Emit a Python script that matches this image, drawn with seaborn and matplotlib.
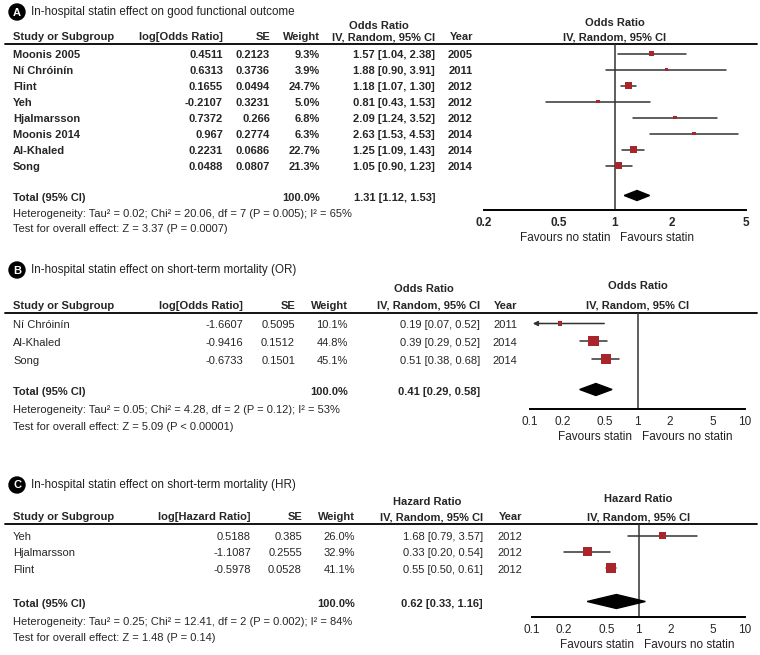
import numpy as np
import pandas as pd
import matplotlib
matplotlib.use("Agg")
import matplotlib.pyplot as plt
from matplotlib.patches import Circle
import seaborn as sns

sns.set_theme(style="white")
plt.rcParams['font.family'] = ['Liberation Sans', 'DejaVu Sans']

# ---------- data: panel A (good functional outcome) ----------
a_study = ['Moonis 2005', 'Ní Chróinín', 'Flint', 'Yeh', 'Hjalmarsson', 'Moonis 2014', 'Al-Khaled', 'Song']
a_log = ['0.4511', '0.6313', '0.1655', '-0.2107', '0.7372', '0.967', '0.2231', '0.0488']
a_se = ['0.2123', '0.3736', '0.0494', '0.3231', '0.266', '0.2774', '0.0686', '0.0807']
a_weight = [9.3, 3.9, 24.7, 5.0, 6.8, 6.3, 22.7, 21.3]
a_or = [1.57, 1.88, 1.18, 0.81, 2.09, 2.63, 1.25, 1.05]
a_lo = [1.04, 0.90, 1.07, 0.43, 1.24, 1.53, 1.09, 0.90]
a_hi = [2.38, 3.91, 1.30, 1.53, 3.52, 4.53, 1.43, 1.23]
a_year = [2005, 2011, 2012, 2012, 2012, 2014, 2014, 2014]
a_total = [1.31, 1.12, 1.53]
a_ticks = [0.2, 0.5, 1, 2, 5]

# ---------- data: panel B (short-term mortality, OR) ----------
b_study = ['Ní Chróinín', 'Al-Khaled', 'Song']
b_log = ['-1.6607', '-0.9416', '-0.6733']
b_se = ['0.5095', '0.1512', '0.1501']
b_weight = [10.1, 44.8, 45.1]
b_or = [0.19, 0.39, 0.51]
b_lo = [0.07, 0.29, 0.38]
b_hi = [0.52, 0.52, 0.68]
b_year = [2011, 2014, 2014]
b_total = [0.41, 0.29, 0.58]
b_ticks = [0.1, 0.2, 0.5, 1, 2, 5, 10]

# ---------- data: panel C (short-term mortality, HR) ----------
c_study = ['Yeh', 'Hjalmarsson', 'Flint']
c_log = ['0.5188', '-1.1087', '-0.5978']
c_se = ['0.385', '0.2555', '0.0528']
c_weight = [26.0, 32.9, 41.1]
c_or = [1.68, 0.33, 0.55]
c_lo = [0.79, 0.20, 0.50]
c_hi = [3.57, 0.54, 0.61]
c_year = [2012, 2012, 2012]
c_total = [0.62, 0.33, 1.16]
c_ticks = [0.1, 0.2, 0.5, 1, 2, 5, 10]

W, H = 760, 655
SQ = '#a8262b'
LN = '#333333'
FS = 8

fig = plt.figure(figsize=(7.6, 6.55), dpi=100)
bg = fig.add_axes([0, 0, 1, 1])
bg.set_xlim(0, W)
bg.set_ylim(H, 0)
bg.axis('off')


def draw_panel(letter, title, lay, measure, logname, study, logv, se, weight, est, lo, hi, year,
               total, ticks, fav_left, fav_right, cols, fx, hetero, overall, bold_rows, dh):
    # lay = (title_y, head1_y, head2_y, line_y, row0, step, total_y, het_y, test_y, axis_y)
    top, h1, h2, line_y, row0, step, tot_y, het_y, test_y, axis_y = lay
    c_log_x, c_se_x, c_w_x, c_ci_x, c_yr_x = cols
    fx0, fx1 = fx
    bg.add_patch(Circle((17, top), 8, color='black'))
    bg.text(17, top + 0.5, letter, color='white', fontsize=8, fontweight='bold', ha='center', va='center')
    bg.text(31, top, title, fontsize=8.4, va='center', color='#222222')

    bg.text((c_ci_x - 56), h1, measure, fontsize=FS, fontweight='bold', ha='center', va='center')
    hdr = dict(fontsize=FS, fontweight='bold', va='center')
    bg.text(13, h2, 'Study or Subgroup', ha='left', **hdr)
    bg.text(c_log_x, h2, logname, ha='right', **hdr)
    bg.text(c_se_x, h2, 'SE', ha='right', **hdr)
    bg.text(c_w_x, h2, 'Weight', ha='right', **hdr)
    bg.text(c_ci_x, h2, 'IV, Random, 95% CI', ha='right', **hdr)
    bg.text(c_yr_x, h2, 'Year', ha='right', **hdr)
    bg.plot([5, 757], [line_y, line_y], color='black', lw=1.3)

    n = len(study)
    rows = [row0 + step * i for i in range(n)]
    rw = 'bold' if bold_rows else 'normal'
    for i in range(n):
        y = rows[i]
        bg.text(13, y, study[i], fontsize=FS, fontweight=rw, va='center')
        bg.text(c_log_x, y, logv[i], fontsize=FS, fontweight=rw, va='center', ha='right')
        bg.text(c_se_x, y, se[i], fontsize=FS, fontweight=rw, va='center', ha='right')
        bg.text(c_w_x, y, f'{weight[i]:.1f}%', fontsize=FS, fontweight=rw, va='center', ha='right')
        bg.text(c_ci_x, y, f'{est[i]:.2f} [{lo[i]:.2f}, {hi[i]:.2f}]', fontsize=FS, fontweight=rw,
                va='center', ha='right')
        bg.text(c_yr_x, y, str(year[i]), fontsize=FS, fontweight=rw, va='center', ha='right')
    bg.text(13, tot_y, 'Total (95% CI)', fontsize=FS, fontweight='bold', va='center')
    bg.text(c_w_x, tot_y, '100.0%', fontsize=FS, fontweight='bold', va='center', ha='right')
    bg.text(c_ci_x, tot_y, f'{total[0]:.2f} [{total[1]:.2f}, {total[2]:.2f}]', fontsize=FS,
            fontweight='bold', va='center', ha='right')
    bg.text(13, het_y, hetero, fontsize=FS, va='center')
    bg.text(13, test_y, overall, fontsize=FS, va='center')

    # forest axes, y in figure pixels
    ax = fig.add_axes([fx0 / W, 1 - axis_y / H, (fx1 - fx0) / W, (axis_y - line_y) / H])
    ax.set_xscale('log')
    my = [r - 1.5 for r in rows]
    df = pd.DataFrame({'est': est, 'y': my, 'w': weight})
    for i in range(n):
        if lo[i] < ticks[0]:
            ax.annotate('', xy=(ticks[0], my[i]), xytext=(hi[i], my[i]),
                        arrowprops=dict(arrowstyle='-|>', color=LN, lw=1.1, mutation_scale=7),
                        annotation_clip=False)
        else:
            ax.plot([lo[i], hi[i]], [my[i], my[i]], color=LN, lw=1.1, zorder=2)
    sns.scatterplot(data=df, x='est', y='y', size='w', sizes=(0, 120),
                    size_norm=(0, 100), marker='s', color=SQ, linewidth=0, legend=False,
                    ax=ax, zorder=3)
    ty = tot_y - 2.5
    ax.fill([total[1], total[0], total[2], total[0]], [ty, ty - dh, ty, ty + dh], color='black', zorder=3)
    ax.axvline(1, color=LN, lw=1.1, zorder=1)
    ax.set_xlim(ticks[0], ticks[-1])
    ax.set_ylim(axis_y, line_y)
    ax.set_xticks(ticks)
    ax.set_xticklabels([f'{t:g}' for t in ticks], fontsize=8.5, fontweight=rw)
    ax.xaxis.set_minor_locator(matplotlib.ticker.NullLocator())
    ax.set_yticks([])
    ax.set_xlabel('')
    ax.set_ylabel('')
    ax.patch.set_alpha(0)
    for s in ['top', 'left', 'right']:
        ax.spines[s].set_visible(False)
    ax.spines['bottom'].set_color('black')
    ax.spines['bottom'].set_linewidth(1.4)
    ax.tick_params(axis='x', direction='inout', length=8, width=1.4, color='black', pad=1)
    ax.grid(False)

    fm = (fx0 + fx1) / 2
    bg.text(fm, h1 - 3, measure, fontsize=FS, fontweight='bold', ha='center', va='center')
    bg.text(fm, h2, 'IV, Random, 95% CI', fontsize=FS, fontweight='bold', ha='center', va='center')
    one_x = fx0 + (fx1 - fx0) * np.log(1 / ticks[0]) / np.log(ticks[-1] / ticks[0])
    bg.text(one_x - 5, axis_y + 28, fav_left, fontsize=8.5, ha='right', va='center', color='#222222')
    bg.text(one_x + 5, axis_y + 28, fav_right, fontsize=8.5, ha='left', va='center', color='#222222')


draw_panel('A', 'In-hospital statin effect on good functional outcome',
           (12, 26, 37, 44, 55, 16.0, 198, 214, 229, 210), 'Odds Ratio', 'log[Odds Ratio]',
           a_study, a_log, a_se, a_weight, a_or, a_lo, a_hi, a_year, a_total, a_ticks,
           'Favours no statin', 'Favours statin', (223, 270, 320, 435, 473), (484, 746),
           'Heterogeneity: Tau² = 0.02; Chi² = 20.06, df = 7 (P = 0.005); I² = 65%',
           'Test for overall effect: Z = 3.37 (P = 0.0007)', True, 5)

draw_panel('B', 'In-hospital statin effect on short-term mortality (OR)',
           (270, 289, 306, 313, 325, 17.8, 392, 410, 427, 409), 'Odds Ratio', 'log[Odds Ratio]',
           b_study, b_log, b_se, b_weight, b_or, b_lo, b_hi, b_year, b_total, b_ticks,
           'Favours statin', 'Favours no statin', (243, 295, 348, 480, 517), (530, 745),
           'Heterogeneity: Tau² = 0.05; Chi² = 4.28, df = 2 (P = 0.12); I² = 53%',
           'Test for overall effect: Z = 5.09 (P < 0.00001)', False, 6)

draw_panel('C', 'In-hospital statin effect on short-term mortality (HR)',
           (485, 502, 517, 524, 537, 16.3, 604, 622, 638, 617), 'Hazard Ratio', 'log[Hazard Ratio]',
           c_study, c_log, c_se, c_weight, c_or, c_lo, c_hi, c_year, c_total, c_ticks,
           'Favours statin', 'Favours no statin', (251, 302, 355, 483, 522), (532, 745),
           'Heterogeneity: Tau² = 0.25; Chi² = 12.41, df = 2 (P = 0.002); I² = 84%',
           'Test for overall effect: Z = 1.48 (P = 0.14)', False, 7)

fig.savefig('out.png', dpi=100)
